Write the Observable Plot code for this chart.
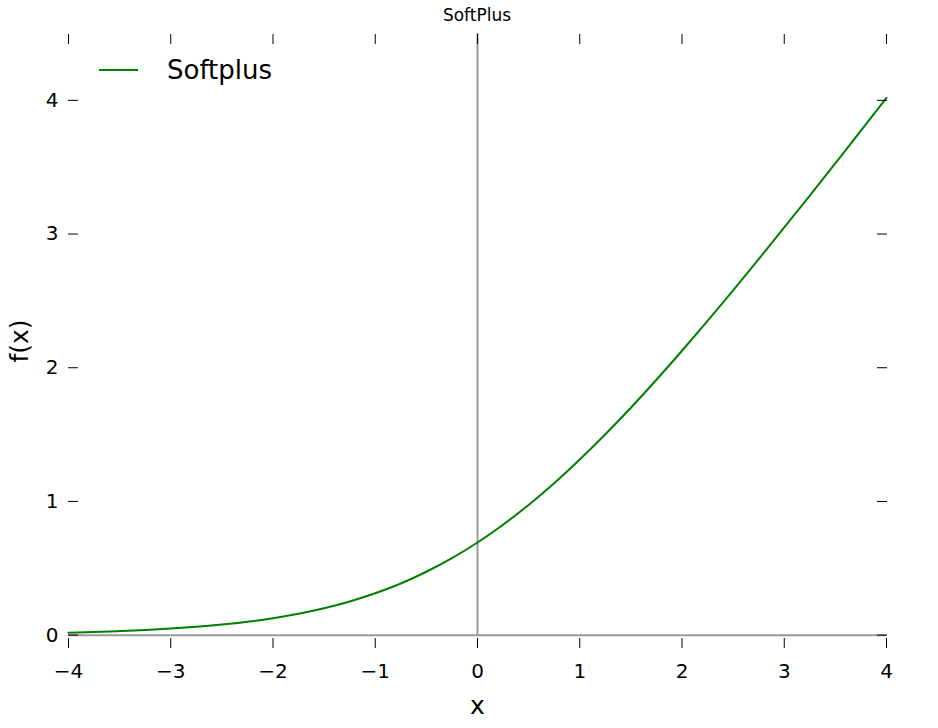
<!DOCTYPE html>
<html><head><meta charset="utf-8">
<script src="https://cdn.jsdelivr.net/npm/d3@7"></script>
<script src="https://cdn.jsdelivr.net/npm/@observablehq/plot@0.6"></script>
<style>
body{margin:0;background:#fff;font-family:"DejaVu Sans",sans-serif;}
#wrap{position:relative;width:938px;height:728px;background:#fff;}
#title{height:30px;line-height:30px;width:938px;box-sizing:border-box;padding-left:68px;padding-right:52px;text-align:center;font-size:17px;color:#000;}
#legend{position:absolute;left:99px;top:55px;display:flex;align-items:center;font-size:26px;color:#000;}
#legend .sw{width:39px;height:2px;background:#008000;margin-right:29px;}
</style></head><body>
<div id="wrap"><div id="title">SoftPlus</div><div id="chart"></div><div id="legend"><div class="sw"></div><span id="legtext"></span></div></div>
<script>
const seriesName = "Softplus";
const xLabel = "x";
const yLabel = "f(x)";
const xValues = [-4,-3.75,-3.5,-3.25,-3,-2.75,-2.5,-2.25,-2,-1.75,-1.5,-1.25,-1,-0.75,-0.5,-0.25,0,0.25,0.5,0.75,1,1.25,1.5,1.75,2,2.25,2.5,2.75,3,3.25,3.5,3.75,4];
const yValues = [0.018,0.023,0.030,0.038,0.049,0.062,0.079,0.100,0.127,0.160,0.201,0.252,0.313,0.386,0.474,0.576,0.693,0.826,0.974,1.136,1.313,1.502,1.701,1.910,2.127,2.350,2.579,2.812,3.049,3.288,3.530,3.773,4.018];
const xTicks = [-4,-3,-2,-1,0,1,2,3,4];
const yTicks = [0,1,2,3,4];
const xDomain = [-4,4];
const yDomain = [-0.1,4.5];

document.getElementById("legtext").textContent = seriesName;
const data = xValues.map((x,i)=>({x, y:yValues[i]}));
const fmt = d3.format("d");
const plot = Plot.plot({
  width:938, height:698, marginTop:3, marginBottom:80, marginLeft:68, marginRight:52,
  style:{fontFamily:"DejaVu Sans", fontSize:"20px", color:"#000", background:"#fff"},
  x:{domain:xDomain}, y:{domain:yDomain},
  marks:[
    Plot.ruleY([0], {stroke:"#999999", strokeWidth:2}),
    Plot.ruleX([0], {y1:0, y2:yDomain[1], stroke:"#999999", strokeWidth:2}),
    Plot.line(data, {x:"x", y:"y", stroke:"#008000", strokeWidth:2, curve:"natural"}),
    Plot.axisX({anchor:"bottom", ticks:xTicks, tickSize:-10, tickPadding:25, tickFormat:fmt, label:null, fontSize:20}),
    Plot.axisX({anchor:"top", ticks:xTicks, tickSize:-10, tickFormat:()=>"", label:null}),
    Plot.axisY({anchor:"left", ticks:yTicks, tickSize:-10, tickPadding:20, tickFormat:fmt, label:null, fontSize:20}),
    Plot.axisY({anchor:"right", ticks:yTicks, tickSize:-10, tickFormat:()=>"", label:null}),
    Plot.text([xLabel], {text:d=>d, frameAnchor:"bottom", textAnchor:"middle", lineAnchor:"middle", dy:57, fontSize:25, fill:"#000"}),
    Plot.text([yLabel], {text:d=>d, frameAnchor:"left", textAnchor:"middle", lineAnchor:"middle", dx:-49, rotate:-90, fontSize:25, fill:"#000"})
  ]
});
document.getElementById("chart").appendChild(plot);
</script>
</body></html>
